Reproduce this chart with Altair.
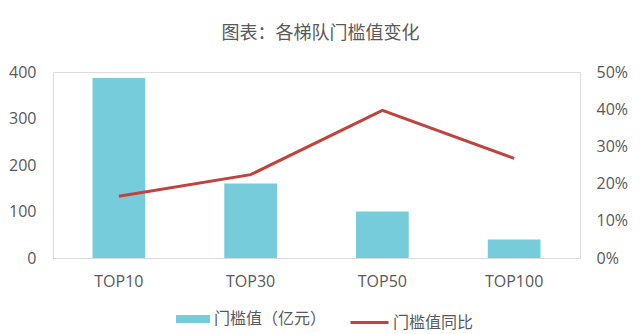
import altair as alt
import pandas as pd

categories = ["TOP10", "TOP30", "TOP50", "TOP100"]
threshold = [387, 160, 100, 40]
yoy = [0.166, 0.224, 0.397, 0.268]
left_ticks = [0, 100, 200, 300, 400]
right_ticks = [0, 0.1, 0.2, 0.3, 0.4, 0.5]
bar_name = "门槛值（亿元）"
line_name = "门槛值同比"

df = pd.DataFrame({
    "cat": categories,
    "threshold": threshold,
    "yoy": yoy,
    "s1": [bar_name] * len(categories),
    "s2": [line_name] * len(categories),
})

FONT = "Noto Sans CJK SC"
NUMFONT = "Open Sans"
TXT = "#595959"

x = alt.X(
    "cat:N", sort=categories,
    scale=alt.Scale(paddingInner=0.6, paddingOuter=0.3),
    axis=alt.Axis(title=None, labelAngle=0, ticks=False, domainColor="#d9d9d9",
                  domainWidth=1, labelFontSize=16, labelColor=TXT, labelFont=NUMFONT,
                  labelPadding=15),
)

bars = alt.Chart(df).mark_bar(color="#76CCDA").encode(
    x=x,
    y=alt.Y("threshold:Q", scale=alt.Scale(domain=[0, 400]),
            axis=alt.Axis(values=left_ticks, grid=False, domain=False, ticks=False,
                          title=None, labelPadding=17, labelFontSize=16,
                          labelColor=TXT, labelFont=NUMFONT)),
    color=alt.Color("s1:N", scale=alt.Scale(range=["#76CCDA"]),
                    legend=alt.Legend(title=None, orient="none", legendX=123, legendY=230,
                                      symbolType="M-1,-0.23L1,-0.23L1,0.23L-1,0.23Z",
                                      symbolSize=1156, symbolStrokeWidth=0,
                                      labelFontSize=16, labelColor=TXT, labelFont=FONT,
                                      labelOffset=4)),
)

line = alt.Chart(df).mark_line(strokeWidth=3).encode(
    x=x,
    y=alt.Y("yoy:Q", scale=alt.Scale(domain=[0, 0.5]),
            axis=alt.Axis(orient="right", values=right_ticks, format=".0%", grid=False,
                          domain=False, ticks=False, title=None, labelPadding=16,
                          labelFontSize=16, labelColor=TXT, labelFont=NUMFONT)),
    stroke=alt.Stroke("s2:N", scale=alt.Scale(range=["#C0433F"]),
                      legend=alt.Legend(title=None, orient="none", legendX=296, legendY=230,
                                        symbolType="stroke", symbolSize=1444,
                                        symbolStrokeWidth=3,
                                        labelFontSize=16, labelColor=TXT, labelFont=FONT,
                                        labelOffset=3)),
)

chart = alt.layer(bars, line).resolve_scale(
    y="independent", color="independent", stroke="independent"
).properties(
    width=527, height=186,
    autosize=alt.AutoSizeParams(type="none"),
    padding={"left": 53, "top": 72, "right": 60, "bottom": 76},
    title=alt.Title("图表：各梯队门槛值变化", fontSize=18, color=TXT, font=FONT,
                    fontWeight="normal", offset=21, dx=4),
).configure_view(stroke=None).configure(background="white")

chart.save("out.html", embed_options={"renderer": "svg", "actions": False})
